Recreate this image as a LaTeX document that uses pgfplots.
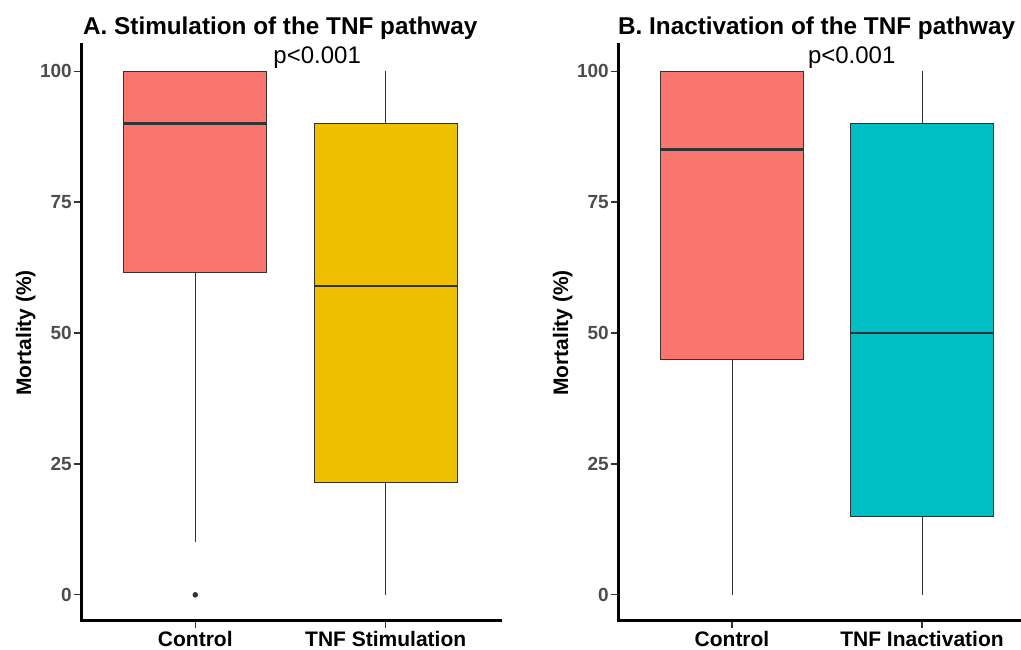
\documentclass[border=0pt]{standalone}
\usepackage{fontspec}
\setmainfont{Liberation Sans}
\usepackage{pgfplots}
\pgfplotsset{compat=1.18}
\usepgfplotslibrary{statistics}
\definecolor{cred}{HTML}{F8766D}
\definecolor{cgold}{HTML}{EFC000}
\definecolor{ccyan}{HTML}{00BFC4}
\definecolor{edge}{HTML}{333333}
\definecolor{tickgray}{HTML}{4D4D4D}
\pgfplotsset{
  geomA/.style={scale only axis, height=576pt, width=419pt, xmin=0.4, xmax=2.6, ymin=-5, ymax=105, at={(81pt,29pt)}, anchor=south west},
  geomB/.style={scale only axis, height=576pt, width=403pt, xmin=0.4, xmax=2.521, ymin=-5, ymax=105, at={(618pt,29pt)}, anchor=south west},
  panel/.style={
    axis x line*=bottom, axis y line*=left,
    axis line style={-, line width=3pt, black, line cap=rect},
    xtick={1,2}, ytick={0,25,50,75,100},
    /pgf/number format/assume math mode=true,
    tick align=outside, major tick length=7pt,
    tick style={line width=1.2pt, edge},
    yticklabel style={font=\fontsize{19}{22}\selectfont\bfseries, text=tickgray, inner sep=2pt},
    xticklabel style={font=\fontsize{21}{24}\selectfont\bfseries, text=black},
    ylabel={Mortality (\%)},
    ylabel style={font=\fontsize{21}{24}\selectfont\bfseries, yshift=-1pt},
    clip=false,
    boxplot/draw direction=y,
  },
  bx/.style={fill=#1, draw=edge, line width=1pt, mark=*, mark size=2.5pt,
    mark options={fill=edge, draw=edge, line width=0.5pt}},
}
\begin{document}
\begin{tikzpicture}
\path[use as bounding box] (0,0) rectangle (1021pt,650pt);
% Panel A
\begin{axis}[geomA, panel, xticklabels={Control, TNF Stimulation}]
\addplot[bx=cred, boxplot prepared={draw position=1, median=90, upper quartile=100, lower quartile=61.5, upper whisker=100, lower whisker=10, box extend=0.75, whisker extend=0}] coordinates {(0,0)};
\addplot[bx=cgold, boxplot prepared={draw position=2, median=59, upper quartile=90, lower quartile=21.5, upper whisker=100, lower whisker=0, box extend=0.75, whisker extend=0}] coordinates {};
\node[anchor=base, inner sep=0pt, font=\fontsize{24}{27}\selectfont] at (axis cs:1.64,101.5) {p<0.001};
\end{axis}
\begin{axis}[geomA, hide axis, clip=false]
\addplot[draw=edge, line width=2.6pt, mark=none] coordinates {(0.625,90) (1.375,90)};
\end{axis}
\begin{axis}[geomA, hide axis, clip=false]
\addplot[draw=edge, line width=2.6pt, mark=none] coordinates {(1.625,59) (2.375,59)};
\end{axis}
% Panel B
\begin{axis}[geomB, panel, xticklabels={Control, TNF Inactivation}]
\addplot[bx=cred, boxplot prepared={draw position=1, median=85, upper quartile=100, lower quartile=45, upper whisker=100, lower whisker=0, box extend=0.75, whisker extend=0}] coordinates {};
\addplot[bx=ccyan, boxplot prepared={draw position=2, median=50, upper quartile=90, lower quartile=15, upper whisker=100, lower whisker=0, box extend=0.75, whisker extend=0}] coordinates {};
\node[anchor=base, inner sep=0pt, font=\fontsize{24}{27}\selectfont] at (axis cs:1.63,101.5) {p<0.001};
\end{axis}
\begin{axis}[geomB, hide axis, clip=false]
\addplot[draw=edge, line width=2.6pt, mark=none] coordinates {(0.625,85) (1.375,85)};
\end{axis}
\begin{axis}[geomB, hide axis, clip=false]
\addplot[draw=edge, line width=2.6pt, mark=none] coordinates {(1.625,50) (2.375,50)};
\end{axis}
\node[anchor=base west, inner sep=0pt, font=\bfseries\fontsize{24.3}{28}\selectfont] at (83pt,615pt) {A. Stimulation of the TNF pathway};
\node[anchor=base west, inner sep=0pt, font=\bfseries\fontsize{24.3}{28}\selectfont] at (618pt,615pt) {B. Inactivation of the TNF pathway};
\end{tikzpicture}
\end{document}
